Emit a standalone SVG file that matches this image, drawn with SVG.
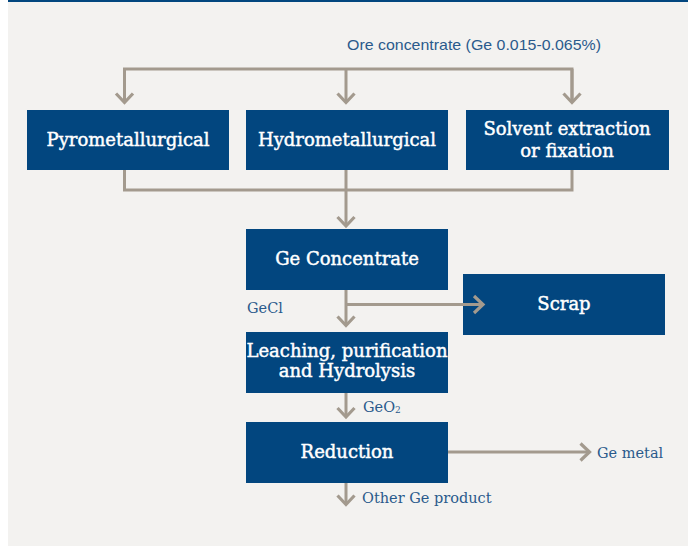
<svg xmlns="http://www.w3.org/2000/svg" width="688" height="546" viewBox="0 0 688 546">
<style>
.box{fill:#02467f}
.bt{font-family:"DejaVu Serif","Liberation Serif",serif;font-size:18px;fill:#ffffff;text-anchor:middle;stroke:#ffffff;stroke-width:0.45}
.lb{font-family:"Liberation Sans","Noto Sans",sans-serif;font-size:15px;fill:#2a5a8c}
.ls{font-family:"DejaVu Serif","Liberation Serif",serif;font-size:14.5px;fill:#2a5a8c}
.ln{fill:none;stroke:#a39a8e;stroke-width:3}
.ah{fill:none;stroke:#a39a8e;stroke-width:3.2;stroke-linejoin:miter;stroke-miterlimit:10}
</style>
<defs>
<marker id="arr" markerUnits="userSpaceOnUse" orient="auto" markerWidth="30" markerHeight="30" refX="0" refY="0" viewBox="-15 -15 30 30" overflow="visible">
<path class="ah" d="M-8.5,-8.5 L0.5,0 L-8.5,8.5"/>
</marker>
</defs>
<rect x="8" y="0" width="680" height="546" fill="#f3f2f0"/>
<rect x="8" y="0" width="680" height="2" fill="#02467f"/>
<g id="ore"><text class="lb" x="347" y="50" textLength="254" lengthAdjust="spacingAndGlyphs">Ore concentrate (Ge 0.015-0.065%)</text></g>
<g id="pyro"><rect class="box" x="27" y="110" width="202" height="60"/><text class="bt" x="128" y="146">Pyrometallurgical</text></g>
<g id="hydro"><rect class="box" x="246" y="110" width="202" height="60"/><text class="bt" x="347" y="146">Hydrometallurgical</text></g>
<g id="solvent"><rect class="box" x="466" y="110" width="203" height="60"/><text class="bt" x="567" y="135">Solvent extraction</text><text class="bt" x="567" y="157">or fixation</text></g>
<g id="geconc"><rect class="box" x="246" y="229" width="202" height="61"/><text class="bt" x="347" y="265">Ge Concentrate</text></g>
<g id="scrap"><rect class="box" x="463" y="274" width="202" height="61"/><text class="bt" x="564" y="310">Scrap</text></g>
<g id="leach"><rect class="box" x="246" y="332" width="202" height="61"/><text class="bt" x="347" y="357">Leaching, purification</text><text class="bt" x="347" y="377">and Hydrolysis</text></g>
<g id="reduction"><rect class="box" x="246" y="422" width="202" height="61"/><text class="bt" x="347" y="458">Reduction</text></g>
<g id="labels">
<text class="ls" x="247" y="312.5">GeCl</text>
<text class="ls" x="363" y="412">GeO<tspan font-size="9" dy="1">2</tspan></text>
<text class="ls" x="597" y="458">Ge metal</text>
<text class="ls" x="362" y="503">Other Ge product</text>
</g>
<g id="connectors">
<path class="ln" d="M124.5,102 V69 H572 V102"/>
<path class="ln" d="M346,69 V102" marker-end="url(#arr)"/>
<path class="ln" d="M124.5,69 V102" marker-end="url(#arr)"/>
<path class="ln" d="M572,69 V102" marker-end="url(#arr)"/>
<path class="ln" d="M124.5,170 V190 H572 V170"/>
<path class="ln" d="M346,170 V225.5" marker-end="url(#arr)"/>
<path class="ln" d="M346,290 V325" marker-end="url(#arr)"/>
<path class="ln" d="M346,304.5 H482.5" marker-end="url(#arr)"/>
<path class="ln" d="M346,393 V416.5" marker-end="url(#arr)"/>
<path class="ln" d="M448,452 H589" marker-end="url(#arr)"/>
<path class="ln" d="M346,483 V504" marker-end="url(#arr)"/>
</g>
</svg>
